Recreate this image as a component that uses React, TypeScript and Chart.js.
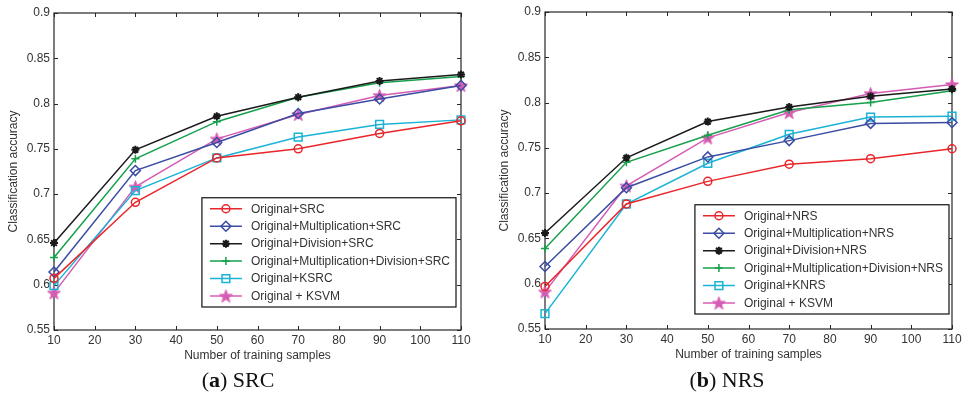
import React, { useEffect, useRef } from "react";
import { Chart, registerables } from "chart.js";
import { drawPoint } from "chart.js/helpers";

Chart.register(...registerables);

const X_VALUES = [10, 30, 50, 70, 90, 110];
const X_TICK_STEP = 10;
const Y_MIN = 0.55;
const Y_MAX = 0.9;
const Y_TICK_STEP = 0.05;

const SRC_LABELS = [
  "Original+SRC",
  "Original+Multiplication+SRC",
  "Original+Division+SRC",
  "Original+Multiplication+Division+SRC",
  "Original+KSRC",
  "Original + KSVM",
];
const srcOriginal = [0.607, 0.691, 0.74, 0.75, 0.767, 0.781];
const srcMult = [0.614, 0.726, 0.757, 0.789, 0.805, 0.82];
const srcDiv = [0.646, 0.749, 0.786, 0.807, 0.825, 0.832];
const srcMultDiv = [0.63, 0.739, 0.78, 0.807, 0.823, 0.83];
const srcKsrc = [0.599, 0.704, 0.74, 0.763, 0.777, 0.782];
const srcKsvm = [0.591, 0.708, 0.761, 0.788, 0.809, 0.82];

const NRS_LABELS = [
  "Original+NRS",
  "Original+Multiplication+NRS",
  "Original+Division+NRS",
  "Original+Multiplication+Division+NRS",
  "Original+KNRS",
  "Original + KSVM",
];
const nrsOriginal = [0.597, 0.688, 0.713, 0.732, 0.738, 0.749];
const nrsMult = [0.619, 0.706, 0.74, 0.758, 0.777, 0.778];
const nrsDiv = [0.656, 0.739, 0.779, 0.795, 0.807, 0.815];
const nrsMultDiv = [0.639, 0.734, 0.764, 0.792, 0.8, 0.813];
const nrsKnrs = [0.567, 0.688, 0.733, 0.765, 0.784, 0.785];
const nrsKsvm = [0.591, 0.708, 0.761, 0.789, 0.81, 0.82];

const COLORS = ["#e8262a", "#3a4ca3", "#1a1a1a", "#16a04c", "#1ab3d6", "#d65cb3"];

const FONT = '"Liberation Sans", Arial, sans-serif';
const TEXT = "#333333";

function makePentagram(color: string): HTMLCanvasElement {
  const c = document.createElement("canvas");
  const s = 15;
  c.width = s;
  c.height = s;
  const ctx = c.getContext("2d")!;
  const cx = s / 2;
  const cy = s / 2 + 0.6;
  const R = 6.8;
  const r = 2.7;
  ctx.beginPath();
  for (let i = 0; i < 10; i++) {
    const ang = -Math.PI / 2 + (i * Math.PI) / 5;
    const rad = i % 2 === 0 ? R : r;
    const px = cx + rad * Math.cos(ang);
    const py = cy + rad * Math.sin(ang);
    if (i === 0) ctx.moveTo(px, py);
    else ctx.lineTo(px, py);
  }
  ctx.closePath();
  ctx.fillStyle = color;
  ctx.fill();
  ctx.strokeStyle = color;
  ctx.lineWidth = 1;
  ctx.stroke();
  return c;
}

function buildDatasets(labels: string[], series: number[][]) {
  const star = makePentagram(COLORS[5]);
  const styles: any[] = [
    { pointStyle: "circle", pointRadius: 4 },
    { pointStyle: "rectRot", pointRadius: 5 },
    { pointStyle: "star", pointRadius: 4 },
    { pointStyle: "cross", pointRadius: 4 },
    { pointStyle: "rect", pointRadius: 5.5 },
    { pointStyle: star, pointRadius: 7 },
  ];
  return series.map((vals, i) => ({
    label: labels[i],
    data: vals.map((v, j) => ({ x: X_VALUES[j], y: v })),
    borderColor: COLORS[i],
    backgroundColor: COLORS[i],
    pointBackgroundColor: i === 2 ? COLORS[i] : "rgba(0,0,0,0)",
    pointBorderColor: COLORS[i],
    pointBorderWidth: i === 2 ? 2 : 1.5,
    borderWidth: 1.5,
    tension: 0,
    fill: false,
    clip: false as any,
    ...styles[i],
    pointHoverRadius: styles[i].pointRadius,
  }));
}

const framePlugin = {
  id: "matlabFrame",
  beforeDatasetsDraw(chart: any) {
    const { ctx, chartArea: a, scales } = chart;
    ctx.save();
    ctx.strokeStyle = "#262626";
    ctx.lineWidth = 1.2;
    ctx.strokeRect(a.left, a.top, a.right - a.left, a.bottom - a.top);
    ctx.lineWidth = 1;
    const tl = 4;
    ctx.beginPath();
    scales.x.ticks.forEach((t: any) => {
      const px = Math.round(scales.x.getPixelForValue(t.value)) + 0.5;
      ctx.moveTo(px, a.bottom);
      ctx.lineTo(px, a.bottom - tl);
      ctx.moveTo(px, a.top);
      ctx.lineTo(px, a.top + tl);
    });
    scales.y.ticks.forEach((t: any) => {
      const py = Math.round(scales.y.getPixelForValue(t.value)) + 0.5;
      ctx.moveTo(a.left, py);
      ctx.lineTo(a.left + tl, py);
      ctx.moveTo(a.right, py);
      ctx.lineTo(a.right - tl, py);
    });
    ctx.stroke();
    ctx.restore();
  },
};

const boxLegendPlugin = {
  id: "boxLegend",
  afterDatasetsDraw(chart: any, _args: any, opts: any) {
    const { ctx, chartArea: a } = chart;
    const datasets = chart.data.datasets;
    ctx.save();
    ctx.font = "12px " + FONT;
    let maxW = 0;
    datasets.forEach((d: any) => {
      maxW = Math.max(maxW, ctx.measureText(d.label).width);
    });
    const rowH = 17.45;
    const w = 49 + maxW + 6;
    const h = 22 + rowH * (datasets.length - 1);
    const right = a.right - opts.right;
    const bottom = a.bottom - opts.bottom;
    const left = right - w;
    const top = bottom - h;
    ctx.fillStyle = "#ffffff";
    ctx.fillRect(left, top, w, h);
    ctx.strokeStyle = "#111111";
    ctx.lineWidth = 1.2;
    ctx.strokeRect(left, top, w, h);
    datasets.forEach((d: any, i: number) => {
      const y = top + 11 + i * rowH;
      ctx.strokeStyle = d.borderColor;
      ctx.lineWidth = 1.5;
      ctx.beginPath();
      ctx.moveTo(left + 8, y);
      ctx.lineTo(left + 40, y);
      ctx.stroke();
      ctx.fillStyle = d.pointBackgroundColor;
      ctx.strokeStyle = d.pointBorderColor;
      ctx.lineWidth = d.pointBorderWidth;
      drawPoint(
        ctx,
        { pointStyle: d.pointStyle, radius: d.pointRadius, borderWidth: d.pointBorderWidth, rotation: 0 } as any,
        left + 24,
        y
      );
      ctx.fillStyle = TEXT;
      ctx.textBaseline = "middle";
      ctx.textAlign = "left";
      ctx.fillText(d.label, left + 49, y + 0.5);
    });
    ctx.restore();
  },
};

type PanelProps = {
  labels: string[];
  series: number[][];
  legendRight: number;
  legendBottom: number;
  style: React.CSSProperties;
};

function Panel({ labels, series, legendRight, legendBottom, style }: PanelProps) {
  const ref = useRef<HTMLCanvasElement | null>(null);
  useEffect(() => {
    if (!ref.current) return;
    const chart = new Chart(ref.current, {
      type: "line",
      data: { datasets: buildDatasets(labels, series) as any },
      options: {
        responsive: false,
        animation: false,
        events: [],
        layout: { padding: { top: 13, right: 23, left: 0, bottom: 0 } },
        plugins: {
          legend: { display: false },
          tooltip: { enabled: false },
          boxLegend: { right: legendRight, bottom: legendBottom },
        } as any,
        scales: {
          x: {
            type: "linear",
            min: X_VALUES[0],
            max: X_VALUES[X_VALUES.length - 1],
            grid: { display: false, drawTicks: false },
            border: { display: false },
            ticks: {
              stepSize: X_TICK_STEP,
              padding: 3,
              color: TEXT,
              font: { family: FONT, size: 12 },
              maxRotation: 0,
              autoSkip: false,
            },
            title: {
              display: true,
              text: "Number of training samples",
              color: TEXT,
              font: { family: FONT, size: 12 },
              padding: { top: 0, bottom: 9 },
            },
            afterFit: (s: any) => {
              s.height = 42;
            },
          },
          y: {
            type: "linear",
            min: Y_MIN,
            max: Y_MAX,
            grid: { display: false, drawTicks: false },
            border: { display: false },
            ticks: {
              stepSize: Y_TICK_STEP,
              padding: 4,
              color: TEXT,
              font: { family: FONT, size: 12 },
              callback: (v: any) => String(Number(Number(v).toFixed(2))),
            },
            title: {
              display: true,
              text: "Classification accuracy",
              color: TEXT,
              font: { family: FONT, size: 12 },
              padding: { top: 6, bottom: 0 },
            },
            afterFit: (s: any) => {
              s.width = 54;
            },
          },
        },
      },
      plugins: [framePlugin, boxLegendPlugin],
    });
    return () => chart.destroy();
  }, []);
  return <canvas ref={ref} width={484} height={372} style={{ position: "absolute", ...style }} />;
}

const captionStyle: React.CSSProperties = {
  position: "absolute",
  top: 380,
  transform: "translate(-50%, -50%)",
  fontFamily: '"Liberation Serif", "Times New Roman", serif',
  fontSize: 22,
  lineHeight: 1,
  color: "#111",
  whiteSpace: "nowrap",
};

export default function App() {
  return (
    <div
      style={{
        position: "absolute",
        left: 0,
        top: 0,
        width: 968,
        height: 395,
        background: "#ffffff",
        overflow: "hidden",
      }}
    >
      <Panel
        labels={SRC_LABELS}
        series={[srcOriginal, srcMult, srcDiv, srcMultDiv, srcKsrc, srcKsvm]}
        legendRight={5}
        legendBottom={23}
        style={{ left: 0, top: 0 }}
      />
      <Panel
        labels={NRS_LABELS}
        series={[nrsOriginal, nrsMult, nrsDiv, nrsMultDiv, nrsKnrs, nrsKsvm]}
        legendRight={3}
        legendBottom={15}
        style={{ left: 491, top: -1 }}
      />
      <div style={{ ...captionStyle, left: 238 }}>
        (<b>a</b>) SRC
      </div>
      <div style={{ ...captionStyle, left: 727 }}>
        (<b>b</b>) NRS
      </div>
    </div>
  );
}
